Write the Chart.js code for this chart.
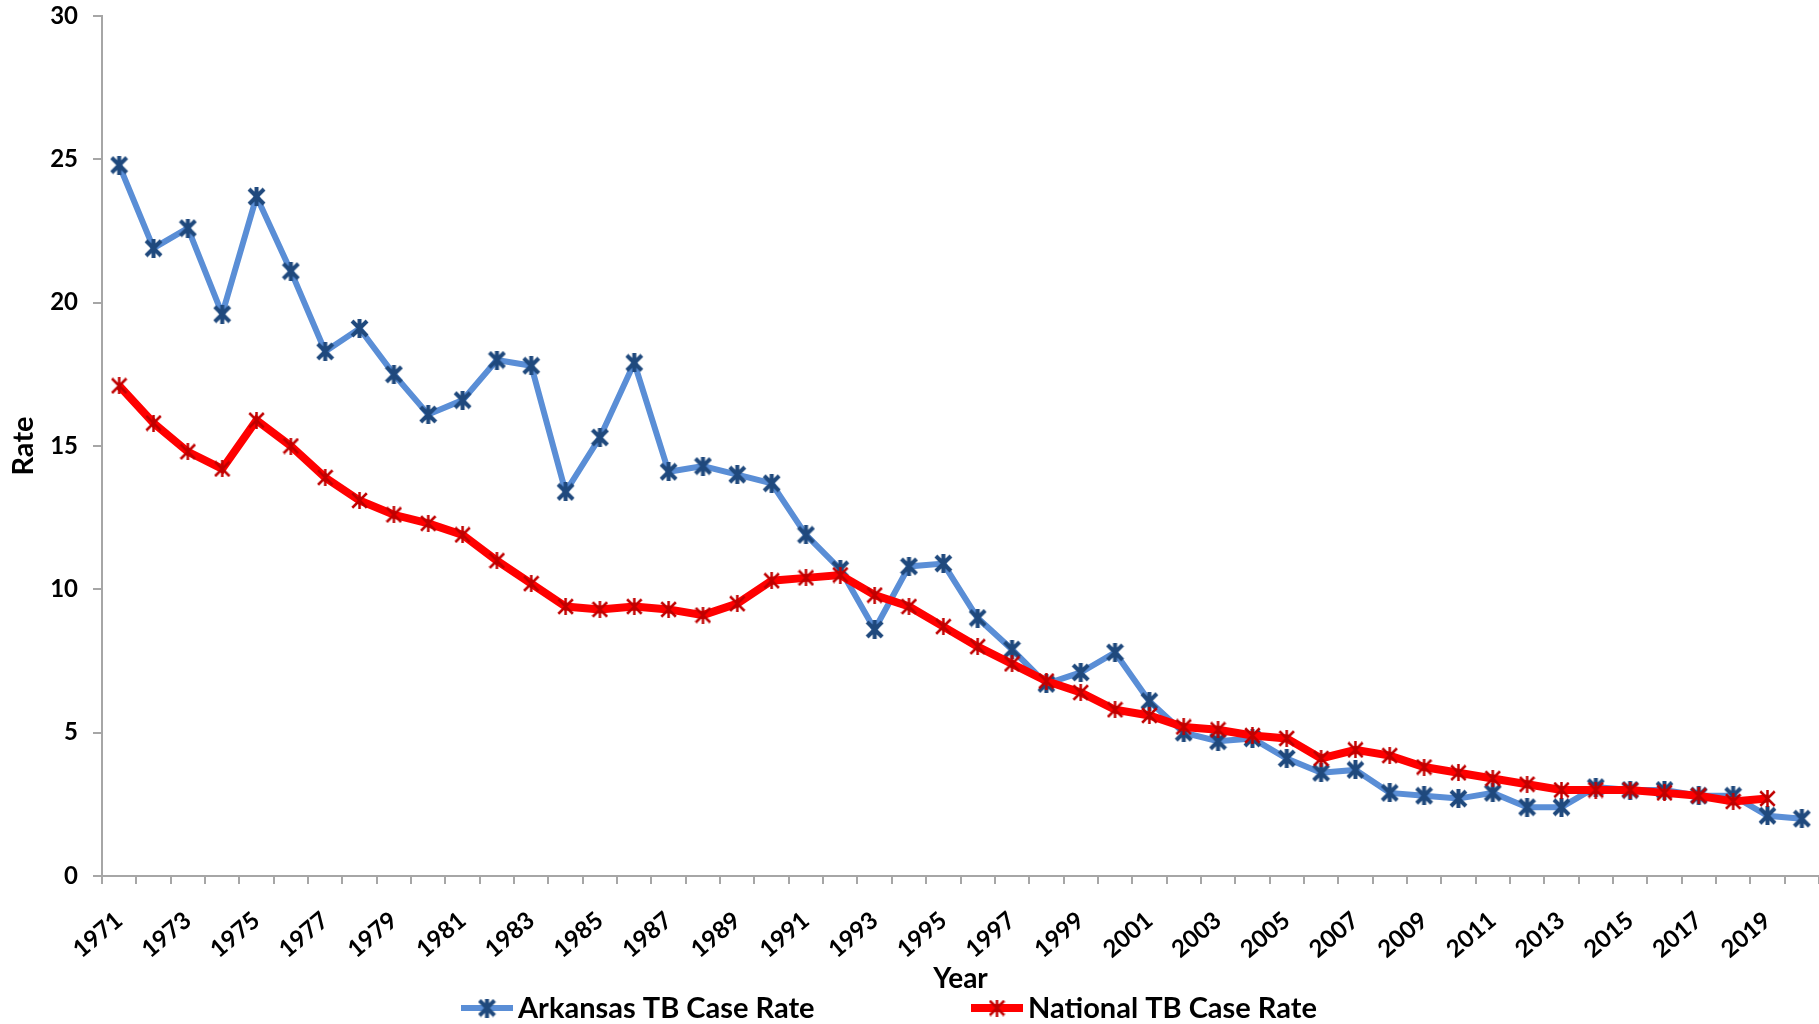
<!DOCTYPE html>
<html>
<head>
<meta charset="utf-8">
<script src="https://cdn.jsdelivr.net/npm/chart.js@4.4.0/dist/chart.umd.min.js"></script>
<style>
  html, body { margin: 0; padding: 0; background: #fff; overflow: hidden; }
  canvas { display: block; }
</style>
</head>
<body>
<canvas id="tbChart" width="1819" height="1024"></canvas>
<script>
const years = ['1971', '1972', '1973', '1974', '1975', '1976', '1977', '1978', '1979', '1980',
  '1981', '1982', '1983', '1984', '1985', '1986', '1987', '1988', '1989', '1990',
  '1991', '1992', '1993', '1994', '1995', '1996', '1997', '1998', '1999', '2000',
  '2001', '2002', '2003', '2004', '2005', '2006', '2007', '2008', '2009', '2010',
  '2011', '2012', '2013', '2014', '2015', '2016', '2017', '2018', '2019', '2020'];

const arkansasRate = [24.8, 21.9, 22.6, 19.6, 23.7, 21.1, 18.3, 19.1, 17.5, 16.1,
  16.6, 18.0, 17.8, 13.4, 15.3, 17.9, 14.1, 14.3, 14.0, 13.7,
  11.9, 10.7, 8.6, 10.8, 10.9, 9.0, 7.9, 6.7, 7.1, 7.8,
  6.1, 5.0, 4.7, 4.8, 4.1, 3.6, 3.7, 2.9, 2.8, 2.7,
  2.9, 2.4, 2.4, 3.1, 3.0, 3.0, 2.8, 2.8, 2.1, 2.0];

const nationalRate = [17.1, 15.8, 14.8, 14.2, 15.9, 15.0, 13.9, 13.1, 12.6, 12.3,
  11.9, 11.0, 10.2, 9.4, 9.3, 9.4, 9.3, 9.1, 9.5, 10.3,
  10.4, 10.5, 9.8, 9.4, 8.7, 8.0, 7.4, 6.8, 6.4, 5.8,
  5.6, 5.2, 5.1, 4.9, 4.8, 4.1, 4.4, 4.2, 3.8, 3.6,
  3.4, 3.2, 3.0, 3.0, 3.0, 2.9, 2.8, 2.6, 2.7];

const yTicks = [0, 5, 10, 15, 20, 25, 30];

const FONT = 'Lato, "Open Sans", sans-serif';
const AXIS_GRAY = '#a6a6a6';

// excel style star marker: X with a vertical bar
function makeStar(color, size, lw) {
  const c = document.createElement('canvas');
  c.width = size;
  c.height = size;
  const g = c.getContext('2d');
  g.strokeStyle = color;
  g.lineWidth = lw;
  const p = lw / 2, s = size - lw / 2;
  g.beginPath();
  g.moveTo(p, p); g.lineTo(s, s);
  g.moveTo(s, p); g.lineTo(p, s);
  g.moveTo(size / 2, 0); g.lineTo(size / 2, size);
  g.stroke();
  return c;
}

const arkMarker = makeStar('#1f497d', 19, 4);
const natMarker = makeStar('#c00000', 17, 2.5);

// legend drawn under the axis title, line + marker + label
const bottomLegend = {
  id: 'bottomLegend',
  afterDraw(chart) {
    const ctx = chart.ctx;
    const starts = [461, 971];
    const y = 1008;
    ctx.save();
    ctx.font = 'bold 29px ' + FONT;
    ctx.textBaseline = 'middle';
    ctx.textAlign = 'left';
    chart.data.datasets.forEach((ds, i) => {
      const x = starts[i];
      ctx.strokeStyle = ds.borderColor;
      ctx.lineWidth = ds.borderWidth;
      ctx.beginPath();
      ctx.moveTo(x, y);
      ctx.lineTo(x + 52, y);
      ctx.stroke();
      const m = ds.pointStyle;
      ctx.drawImage(m, x + 26 - m.width / 2, y - m.height / 2);
      ctx.fillStyle = '#000';
      ctx.fillText(ds.label, x + 57, y + 1);
    });
    ctx.restore();
  }
};

new Chart(document.getElementById('tbChart'), {
  type: 'line',
  data: {
    labels: years,
    datasets: [
      {
        label: 'Arkansas TB Case Rate',
        data: arkansasRate,
        borderColor: '#5a8ed6',
        backgroundColor: '#5a8ed6',
        borderWidth: 6,
        pointStyle: arkMarker,
        pointRadius: 9,
        tension: 0,
        fill: false,
        clip: false,
        order: 2,
      },
      {
        label: 'National TB Case Rate',
        data: nationalRate,
        borderColor: '#ff0000',
        backgroundColor: '#ff0000',
        borderWidth: 8,
        pointStyle: natMarker,
        pointRadius: 9,
        tension: 0,
        fill: false,
        clip: false,
        order: 1,
      },
    ],
  },
  options: {
    responsive: false,
    animation: false,
    layout: { autoPadding: false, padding: { top: 16, right: 0, bottom: 0, left: 0 } },
    plugins: {
      legend: { display: false },
      tooltip: { enabled: false },
    },
    scales: {
      x: {
        offset: true,
        afterFit: (scale) => {
          scale.height = 148;
          scale.paddingLeft = 0;
          scale.paddingRight = 0;
        },
        grid: {
          offset: true,
          drawOnChartArea: false,
          drawTicks: true,
          tickLength: 8,
          color: AXIS_GRAY,
          lineWidth: 2,
        },
        border: { color: AXIS_GRAY, width: 2 },
        ticks: {
          autoSkip: false,
          maxRotation: 40,
          minRotation: 40,
          padding: 22,
          color: '#000',
          font: { family: FONT, size: 24, weight: 'bold' },
          callback: (val, i) => (i % 2 === 0 ? years[i] : ''),
        },
        title: {
          display: true,
          text: 'Year',
          color: '#000',
          font: { family: FONT, size: 28, weight: 'bold' },
          padding: { top: 0, bottom: 28 },
        },
      },
      y: {
        min: 0,
        max: 30,
        afterFit: (scale) => {
          scale.width = 102;
          scale.paddingTop = 0;
          scale.paddingBottom = 0;
        },
        afterBuildTicks: (scale) => { scale.ticks = yTicks.map((v) => ({ value: v })); },
        grid: {
          drawOnChartArea: false,
          drawTicks: true,
          tickLength: 9,
          color: AXIS_GRAY,
          lineWidth: 2,
        },
        border: { color: AXIS_GRAY, width: 2 },
        ticks: {
          padding: 15,
          color: '#000',
          font: { family: FONT, size: 24, weight: 'bold' },
        },
        title: {
          display: true,
          text: 'Rate',
          color: '#000',
          font: { family: FONT, size: 29, weight: 'bold' },
          padding: { top: 6, bottom: 0 },
        },
      },
    },
  },
  plugins: [bottomLegend],
});
</script>
</body>
</html>
